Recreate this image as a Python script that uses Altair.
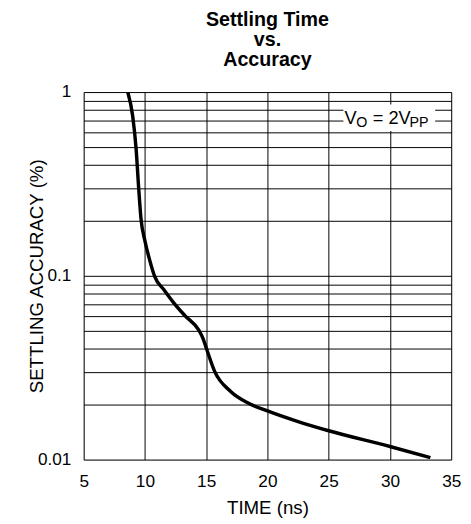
import altair as alt
import pandas as pd

# Curve data
time_ns = [8.6, 9.0, 9.28, 9.49, 9.68, 10.0, 10.4, 10.8, 11.55, 12.35, 13.3, 14.4,
           14.76, 15.03, 15.7, 17.0, 18.5, 20.0, 22.5, 25.0, 30.0, 33.3]
accuracy = [1.0, 0.74, 0.49, 0.30, 0.204, 0.155, 0.121, 0.099, 0.084, 0.0713, 0.0604, 0.0506,
            0.0453, 0.0401, 0.0301, 0.0235, 0.0202, 0.0184, 0.0161, 0.01435, 0.01178, 0.01025]

x_ticks = [5, 10, 15, 20, 25, 30, 35]
y_grid = [0.01, 0.02, 0.03, 0.04, 0.05, 0.06, 0.07, 0.08, 0.09,
          0.1, 0.2, 0.3, 0.4, 0.5, 0.6, 0.7, 0.8, 0.9, 1.0]

# Annotation "VO = 2VPP" pieces (data coordinates)
ann_main_text = ["V", "= 2V"]
ann_main_x = [26.3, 28.6]
ann_main_y = [0.674, 0.674]
ann_sub_text = ["O", "PP"]
ann_sub_x = [27.25, 31.6]
ann_sub_y = [0.647, 0.647]
box_x = [26.2]
box_x2 = [33.69]
box_y = [0.855]
box_y2 = [0.614]

FONT = "Liberation Sans"

df = pd.DataFrame({"t": time_ns, "a": accuracy})

xscale = alt.Scale(domain=[5, 35], nice=False, zero=False)
yscale = alt.Scale(type="log", domain=[0.01, 1], nice=False)

line = alt.Chart(df).mark_line(color="black", strokeWidth=3.5, interpolate="monotone", clip=True).encode(
    x=alt.X("t:Q", scale=xscale,
            axis=alt.Axis(values=x_ticks, grid=True, ticks=False, domain=False,
                          gridColor="black", gridWidth=1, gridOpacity=1,
                          labelFontSize=17.5, labelFont=FONT, labelColor="black",
                          labelPadding=27.5, labelBaseline="alphabetic", labelFlush=False,
                          labelOverlap=False,
                          title="TIME (ns)", titleFontSize=19, titleFont=FONT,
                          titleFontWeight="normal", titleColor="black",
                          titleY=55, titleBaseline="alphabetic")),
    y=alt.Y("a:Q", scale=yscale,
            axis=alt.Axis(values=y_grid, grid=True, ticks=False, domain=False,
                          gridColor="black", gridWidth=1, gridOpacity=1,
                          labelExpr="(datum.value == 0.01 || datum.value == 0.1 || datum.value == 1) ? format(datum.value, '~g') : ''",
                          labelFontSize=17.5, labelFont=FONT, labelColor="black",
                          labelPadding=13, labelOverlap=False, labelFlush=False,
                          title="SETTLING ACCURACY (%)", titleFontSize=19, titleFont=FONT,
                          titleFontWeight="normal", titleColor="black",
                          titleX=-42, titleBaseline="alphabetic")),
)

box_df = pd.DataFrame({"x": box_x, "x2": box_x2, "y": box_y, "y2": box_y2})
box = alt.Chart(box_df).mark_rect(fill="white").encode(
    x=alt.X("x:Q", scale=xscale), x2="x2:Q",
    y=alt.Y("y:Q", scale=yscale), y2="y2:Q",
)

main_df = pd.DataFrame({"x": ann_main_x, "y": ann_main_y, "text": ann_main_text})
main_txt = alt.Chart(main_df).mark_text(align="left", baseline="alphabetic", fontSize=18.5,
                                        font=FONT, color="black").encode(
    x=alt.X("x:Q", scale=xscale), y=alt.Y("y:Q", scale=yscale), text="text:N")

sub_df = pd.DataFrame({"x": ann_sub_x, "y": ann_sub_y, "text": ann_sub_text})
sub_txt = alt.Chart(sub_df).mark_text(align="left", baseline="alphabetic", fontSize=14.5,
                                      font=FONT, color="black").encode(
    x=alt.X("x:Q", scale=xscale), y=alt.Y("y:Q", scale=yscale), text="text:N")

chart = alt.layer(box, line, main_txt, sub_txt).properties(
    width=374, height=374,
    autosize=alt.AutoSizeParams(type="none"),
    padding={"left": 77, "top": 81, "right": 12, "bottom": 61},
    title=alt.TitleParams(["Settling Time", "vs.", "Accuracy"], fontSize=20, fontWeight="bold",
                          font=FONT, color="black", lineHeight=20.5, anchor="middle",
                          frame="group", offset=13),
).configure_view(stroke="black", strokeWidth=2).configure(background="white")

chart.save("out.html", embed_options={"renderer": "svg", "actions": False})
